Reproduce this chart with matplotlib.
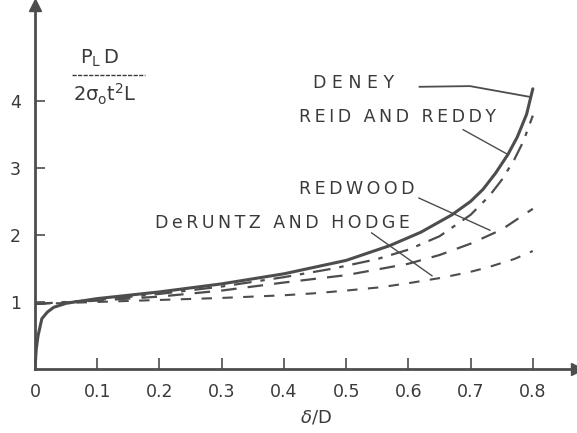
import numpy as np
import matplotlib.pyplot as plt

# curves (x = delta/D, y = P_L D / (2 sigma_o t^2 L))
deney_x = [0, 0.002, 0.005, 0.011, 0.02, 0.03, 0.05, 0.1, 0.2, 0.3, 0.4, 0.5, 0.57, 0.62, 0.67, 0.7, 0.72, 0.74, 0.76, 0.775, 0.79, 0.8]
deney_y = [0, 0.3, 0.5, 0.75, 0.85, 0.92, 0.98, 1.05, 1.15, 1.27, 1.42, 1.62, 1.84, 2.04, 2.3, 2.5, 2.68, 2.92, 3.2, 3.46, 3.8, 4.18]

reid_x = [0, 0.1, 0.2, 0.3, 0.4, 0.48, 0.55, 0.6, 0.65, 0.7, 0.73, 0.75, 0.77, 0.785, 0.8]
reid_y = [0.97, 1.03, 1.12, 1.23, 1.37, 1.5, 1.64, 1.78, 1.98, 2.3, 2.58, 2.82, 3.12, 3.4, 3.78]

redwood_x = [0, 0.1, 0.2, 0.3, 0.4, 0.5, 0.6, 0.65, 0.7, 0.75, 0.8]
redwood_y = [0.97, 1.02, 1.08, 1.17, 1.29, 1.40, 1.57, 1.70, 1.87, 2.08, 2.39]

deruntz_x = [0, 0.1, 0.2, 0.3, 0.4, 0.45, 0.5, 0.556, 0.6, 0.653, 0.7, 0.729, 0.77, 0.8]
deruntz_y = [0.97, 1.0, 1.03, 1.06, 1.10, 1.13, 1.17, 1.22, 1.28, 1.36, 1.45, 1.52, 1.64, 1.76]

xticks = [0, 0.1, 0.2, 0.3, 0.4, 0.5, 0.6, 0.7, 0.8]
xlabels = ['0', '0.1', '0.2', '0.3', '0.4', '0.5', '0.6', '0.7', '0.8']
yticks = [1, 2, 3, 4]

col = '#4d4d4d'
tcol = '#3a3a3a'


def spaced(s):
    # old typewriter-style lettering is widely spaced
    return '\u2009'.join(s)


fig = plt.figure(figsize=(5.77, 4.33), dpi=100)
ax = fig.add_axes([35/577, 64/433, 542/577, 364/433])
ax.set_xlim(0, 0.871)
ax.set_ylim(0, 5.43)

ax.plot(deney_x, deney_y, color=col, lw=2.2, solid_capstyle='round', solid_joinstyle='round')
ax.plot(reid_x, reid_y, color=col, lw=1.6, dashes=(8, 4, 2, 4))
ax.plot(redwood_x, redwood_y, color=col, lw=1.6, dashes=(7, 5))
ax.plot(deruntz_x, deruntz_y, color=col, lw=1.5, dashes=(5, 5))

for s in ['top', 'right']:
    ax.spines[s].set_visible(False)
for s in ['left', 'bottom']:
    ax.spines[s].set_color(col)
    ax.spines[s].set_linewidth(2)

# arrowheads
ax.plot(0, 5.43, marker='^', ms=9, color=col, clip_on=False)
ax.plot(0.871, 0, marker='>', ms=9, color=col, clip_on=False)

ax.set_xticks(xticks)
ax.set_xticklabels(xlabels)
ax.set_yticks(yticks)
ax.tick_params(axis='x', direction='in', length=8, width=1.2, color=col,
               labelsize=12.5, labelcolor=tcol, pad=10)
ax.tick_params(axis='y', direction='in', length=7, width=1.2, color=col,
               labelsize=12.5, labelcolor=tcol, pad=10)

ax.text(0.452, -0.72, r'$\delta$/D', ha='center', va='center', fontsize=13, color=tcol)

# y-axis quantity as a fraction
ax.text(0.104, 4.64, r'$\mathregular{P_L\,D}$', ha='center', va='center', fontsize=14, color=tcol)
ax.plot([0.06, 0.176], [4.39, 4.39], color=tcol, lw=1, dashes=(3, 1))
ax.text(0.113, 4.09, r'$\mathregular{2\sigma_o t^2 L}$', ha='center', va='center', fontsize=14, color=tcol)

lab = dict(fontsize=12.5, color=tcol, ha='center', va='center')
ax.text(0.512, 4.27, 'D E N E Y', **lab)
ax.text(0.582, 3.76, spaced('REID AND REDDY'), **lab)
ax.text(0.517, 2.69, spaced('REDWOOD'), **lab)
ax.text(0.397, 2.18, spaced('DeRUNTZ AND HODGE'), **lab)

# leader lines
ax.plot([0.618, 0.699, 0.795], [4.21, 4.22, 4.06], color=col, lw=1.3)
ax.plot([0.688, 0.758], [3.57, 3.21], color=col, lw=1)
ax.plot([0.617, 0.731], [2.55, 2.07], color=col, lw=1)
ax.plot([0.541, 0.638], [2.03, 1.39], color=col, lw=1)

fig.savefig('out.png', dpi=100)
